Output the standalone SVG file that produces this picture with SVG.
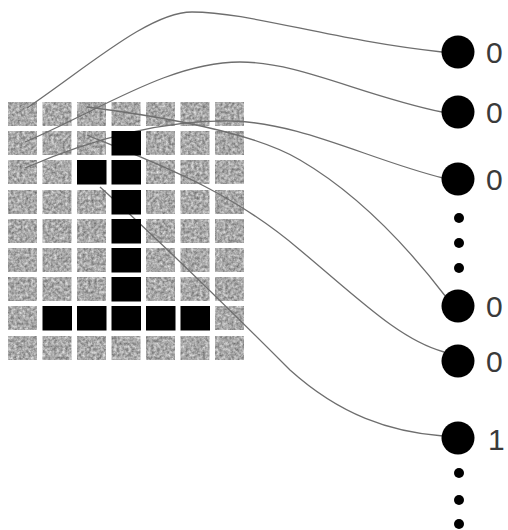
<svg xmlns="http://www.w3.org/2000/svg" width="508" height="530" viewBox="0 0 508 530">
<style>
.g{fill:#b0b0b0}
.b{fill:#000}
.ln{fill:none;stroke:#6e6e6e;stroke-width:1.3}
.n{fill:#000}
.d{fill:#000}
.t{font-family:"Liberation Sans",Arial,sans-serif;font-size:30px;fill:#3a3a3a}
</style>
<defs>
<filter id="noise" x="-0.02" y="-0.02" width="1.04" height="1.04" filterUnits="objectBoundingBox" color-interpolation-filters="sRGB">
<feTurbulence type="fractalNoise" baseFrequency="0.35" numOctaves="3" seed="4" result="t"/>
<feColorMatrix in="t" type="matrix" values="0.6 0 0 0 0.36  0.6 0 0 0 0.36  0.6 0 0 0 0.36  0 0 0 0 1" result="c"/>
<feComposite in="c" in2="SourceGraphic" operator="in" result="m"/>
<feGaussianBlur in="m" stdDeviation="0.7"/>
</filter>
</defs>
<rect width="508" height="530" fill="#fff"/>
<g id="grid-gray" filter="url(#noise)">
<rect class="g" x="8" y="102" width="29" height="24"/><rect class="g" x="42.5" y="102" width="29" height="24"/><rect class="g" x="77" y="102" width="29" height="24"/><rect class="g" x="111.5" y="102" width="29" height="24"/><rect class="g" x="146" y="102" width="29" height="24"/><rect class="g" x="180.5" y="102" width="29" height="24"/><rect class="g" x="215" y="102" width="29" height="24"/>
<rect class="g" x="8" y="131" width="29" height="24"/><rect class="g" x="42.5" y="131" width="29" height="24"/><rect class="g" x="77" y="131" width="29" height="24"/><rect class="g" x="146" y="131" width="29" height="24"/><rect class="g" x="180.5" y="131" width="29" height="24"/><rect class="g" x="215" y="131" width="29" height="24"/>
<rect class="g" x="8" y="160" width="29" height="24"/><rect class="g" x="42.5" y="160" width="29" height="24"/><rect class="g" x="146" y="160" width="29" height="24"/><rect class="g" x="180.5" y="160" width="29" height="24"/><rect class="g" x="215" y="160" width="29" height="24"/>
<rect class="g" x="8" y="190" width="29" height="24"/><rect class="g" x="42.5" y="190" width="29" height="24"/><rect class="g" x="77" y="190" width="29" height="24"/><rect class="g" x="146" y="190" width="29" height="24"/><rect class="g" x="180.5" y="190" width="29" height="24"/><rect class="g" x="215" y="190" width="29" height="24"/>
<rect class="g" x="8" y="219" width="29" height="24"/><rect class="g" x="42.5" y="219" width="29" height="24"/><rect class="g" x="77" y="219" width="29" height="24"/><rect class="g" x="146" y="219" width="29" height="24"/><rect class="g" x="180.5" y="219" width="29" height="24"/><rect class="g" x="215" y="219" width="29" height="24"/>
<rect class="g" x="8" y="248" width="29" height="24"/><rect class="g" x="42.5" y="248" width="29" height="24"/><rect class="g" x="77" y="248" width="29" height="24"/><rect class="g" x="146" y="248" width="29" height="24"/><rect class="g" x="180.5" y="248" width="29" height="24"/><rect class="g" x="215" y="248" width="29" height="24"/>
<rect class="g" x="8" y="277" width="29" height="24"/><rect class="g" x="42.5" y="277" width="29" height="24"/><rect class="g" x="77" y="277" width="29" height="24"/><rect class="g" x="146" y="277" width="29" height="24"/><rect class="g" x="180.5" y="277" width="29" height="24"/><rect class="g" x="215" y="277" width="29" height="24"/>
<rect class="g" x="8" y="306" width="29" height="24"/><rect class="g" x="215" y="306" width="29" height="24"/>
<rect class="g" x="8" y="336" width="29" height="24"/><rect class="g" x="42.5" y="336" width="29" height="24"/><rect class="g" x="77" y="336" width="29" height="24"/><rect class="g" x="111.5" y="336" width="29" height="24"/><rect class="g" x="146" y="336" width="29" height="24"/><rect class="g" x="180.5" y="336" width="29" height="24"/><rect class="g" x="215" y="336" width="29" height="24"/>
</g>
<g id="connectors">
<path class="ln" d="M27,108 C90,65 150,12 192,12 C250,12 330,40 442,52"/>
<path class="ln" d="M25,142 C100,110 170,62 240,62 C300,62 360,95 442,112"/>
<path class="ln" d="M25,168 C90,140 160,120 230,121 C300,122 370,160 443,178"/>
<path class="ln" d="M87,107 C150,115 250,130 300,160 C360,195 410,250 446,297"/>
<path class="ln" d="M87,135 C160,165 230,190 300,250 C360,300 400,340 444,352"/>
<path class="ln" d="M100,187 C170,250 240,320 290,370 C340,415 390,432 443,436"/>
</g>
<g id="grid-black">
<rect class="b" x="111.5" y="131" width="29.5" height="24.5"/>
<rect class="b" x="77" y="160" width="29.5" height="24.5"/><rect class="b" x="111.5" y="160" width="29.5" height="24.5"/>
<rect class="b" x="111.5" y="190" width="29.5" height="24.5"/>
<rect class="b" x="111.5" y="219" width="29.5" height="24.5"/>
<rect class="b" x="111.5" y="248" width="29.5" height="24.5"/>
<rect class="b" x="111.5" y="277" width="29.5" height="24.5"/>
<rect class="b" x="42.5" y="306" width="29.5" height="24.5"/><rect class="b" x="77" y="306" width="29.5" height="24.5"/><rect class="b" x="111.5" y="306" width="29.5" height="24.5"/><rect class="b" x="146" y="306" width="29.5" height="24.5"/><rect class="b" x="180.5" y="306" width="29.5" height="24.5"/>
</g>
<g id="out1"><circle class="n" cx="458" cy="52" r="16.5"/><text class="t" x="486" y="63">0</text></g>
<g id="out2"><circle class="n" cx="458" cy="112" r="16.5"/><text class="t" x="486" y="123">0</text></g>
<g id="out3"><circle class="n" cx="458" cy="179" r="16.5"/><text class="t" x="486" y="190">0</text></g>
<g id="dots1"><circle class="d" cx="459" cy="218" r="5"/><circle class="d" cx="459" cy="243" r="5"/><circle class="d" cx="459" cy="268" r="5"/></g>
<g id="out4"><circle class="n" cx="458" cy="306" r="16.5"/><text class="t" x="486" y="317">0</text></g>
<g id="out5"><circle class="n" cx="458" cy="361" r="16.5"/><text class="t" x="486" y="372">0</text></g>
<g id="out6"><circle class="n" cx="458" cy="438" r="16.5"/><text class="t" x="488" y="450">1</text></g>
<g id="dots2"><circle class="d" cx="459" cy="473" r="5"/><circle class="d" cx="459" cy="500" r="5"/><circle class="d" cx="459" cy="524" r="5"/></g>
</svg>
